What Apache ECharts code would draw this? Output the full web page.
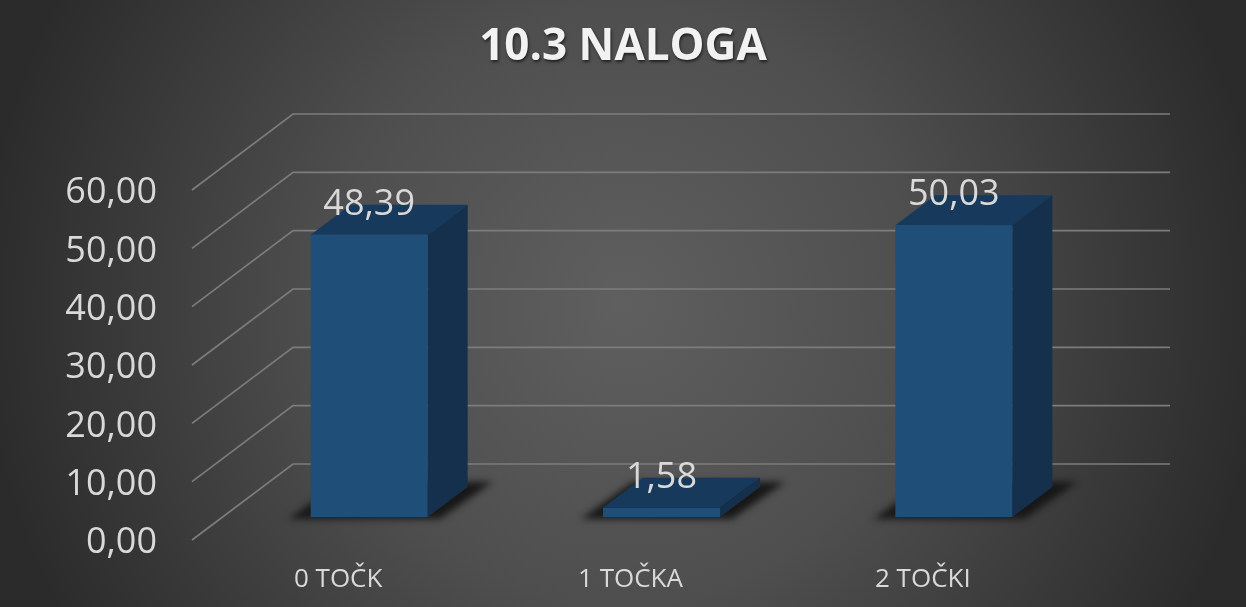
<!DOCTYPE html>
<html>
<head>
<meta charset="utf-8">
<style>html,body{margin:0;padding:0;background:#333}#c{width:1246px;height:607px}</style>
<script src="https://cdn.jsdelivr.net/npm/echarts@6/dist/echarts.min.js"></script>
</head>
<body>
<div id="c"></div>
<script>
const titleText = '10.3 NALOGA';
const categories = ['0 TOČK', '1 TOČKA', '2 TOČKI'];
const values = [48.39, 1.58, 50.03];
const yTicks = [0, 10, 20, 30, 40, 50, 60];

const FONT = '"Open Sans", sans-serif';
const fmt = v => v.toFixed(2).replace('.', ',');
const WALL_DX = 101, WALL_DY = -76;
const BAR_W = 117, BAR_DX = 40, BAR_DY = -30, BAR_SHIFT_X = 31, BAR_SHIFT_Y = -23;
const OFF = 3000;

function renderBar(params, api) {
  const top = api.coord([api.value(0), api.value(1)]);
  const base = api.coord([api.value(0), 0]);
  const xl = top[0] + BAR_SHIFT_X - BAR_W / 2, xr = xl + BAR_W;
  const yt = top[1] + BAR_SHIFT_Y, yb = base[1] + BAR_SHIFT_Y;
  const poly = (pts, fill) => ({ type: 'polygon', shape: { points: pts }, style: { fill } });
  return {
    type: 'group',
    children: [
      {
        type: 'polygon',
        shape: { points: [[xl - 22 - OFF, yb + 2], [xr + 12 - OFF, yb + 2], [xr + 65 - OFF, yb - 35], [xl + 30 - OFF, yb - 35]] },
        style: { fill: '#111', shadowBlur: 7, shadowColor: '#181818', shadowOffsetX: OFF }
      },
      poly([[xl, yt], [xr, yt], [xr + BAR_DX, yt + BAR_DY], [xl + BAR_DX, yt + BAR_DY]], '#16395c'),
      poly([[xr, yt], [xr + BAR_DX, yt + BAR_DY], [xr + BAR_DX, yb + BAR_DY], [xr, yb]], '#14304d'),
      { type: 'rect', shape: { x: xl, y: yt, width: BAR_W, height: yb - yt }, style: { fill: '#1f4e79' } },
      {
        type: 'text', z2: 10,
        style: {
          text: fmt(api.value(1)), x: (xl + xr) / 2, y: yt - 30,
          align: 'center', verticalAlign: 'middle',
          fill: '#d9d9d9', font: '36px ' + FONT
        }
      }
    ]
  };
}

const chart = echarts.init(document.getElementById('c'), null, { renderer: 'canvas' });
chart.setOption({
  animation: false,
  backgroundColor: {
    type: 'radial', x: 0.5, y: 0.5, r: 1.06,
    colorStops: [
      { offset: 0, color: '#5f5f5f' },
      { offset: 0.47, color: '#4e4e4e' },
      { offset: 1, color: '#2b2b2b' }
    ]
  },
  title: {
    text: titleText, left: 'center', top: 20,
    textStyle: {
      color: '#f2f2f2', fontFamily: FONT, fontWeight: 'bold', fontSize: 44,
      textShadowColor: 'rgba(0,0,0,0.6)', textShadowBlur: 3, textShadowOffsetX: 1, textShadowOffsetY: 2
    }
  },
  grid: { left: 192, top: 190, width: 877, height: 350, containLabel: false },
  xAxis: {
    type: 'category', data: categories,
    axisLine: { show: false }, axisTick: { show: false }, splitLine: { show: false },
    axisLabel: { color: '#d9d9d9', fontFamily: FONT, fontSize: 26, margin: 27 }
  },
  yAxis: {
    type: 'value', min: 0, max: 60, interval: 10,
    axisLine: { show: false }, axisTick: { show: false }, splitLine: { show: false },
    axisLabel: { color: '#d9d9d9', fontFamily: FONT, fontSize: 36, margin: 35, verticalAlign: 'top', lineHeight: 6, formatter: fmt }
  },
  series: [
    {
      type: 'custom', silent: true, z: 1, clip: false,
      encode: { y: 0 },
      data: yTicks.map(t => [t]),
      renderItem: (params, api) => {
        const p = api.coord([0, api.value(0)]);
        const x0 = params.coordSys.x, x1 = x0 + params.coordSys.width;
        return {
          type: 'polyline',
          shape: { points: [[x0, p[1]], [x0 + WALL_DX, p[1] + WALL_DY], [x1 + WALL_DX, p[1] + WALL_DY]] },
          style: { stroke: '#7c7c7c', lineWidth: 1.7, fill: null }
        };
      }
    },
    {
      type: 'custom', silent: true, z: 2, clip: false,
      encode: { x: 0, y: 1 },
      data: values.map((v, i) => [i, v]),
      renderItem: renderBar
    }
  ]
});
</script>
</body>
</html>
